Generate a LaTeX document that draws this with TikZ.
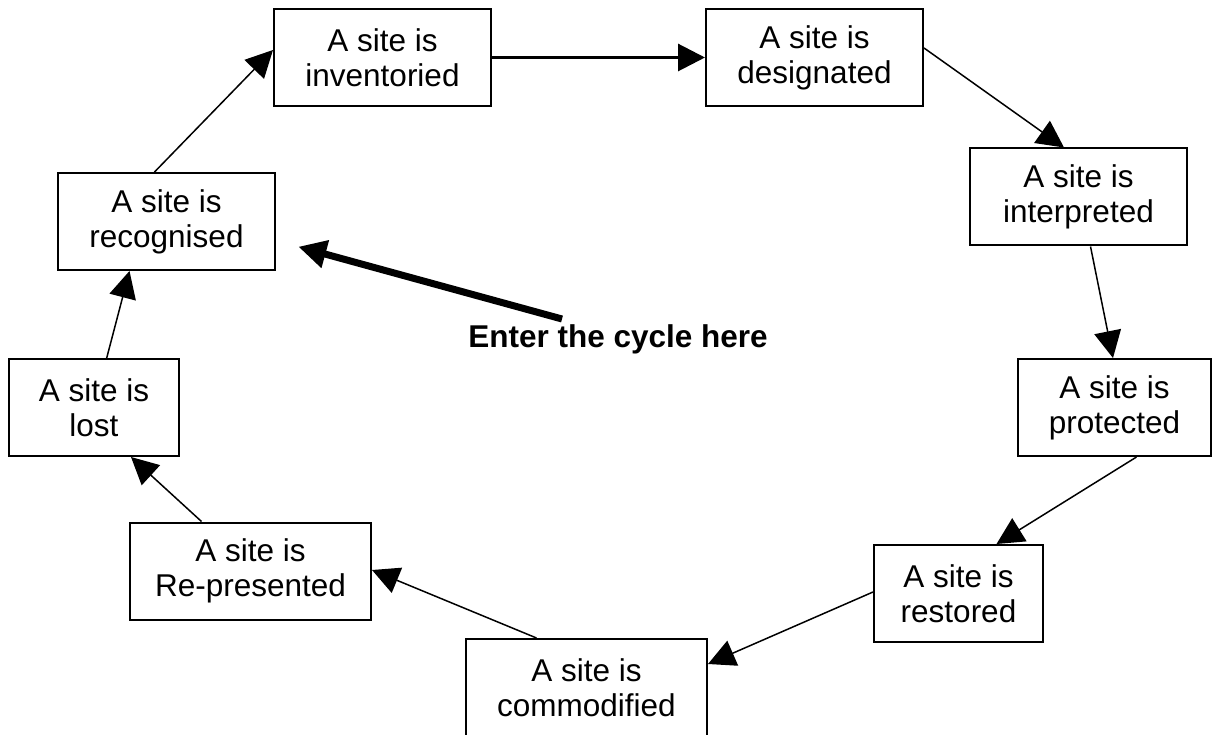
\documentclass[tikz,border=0pt]{standalone}
\usepackage{fontspec}
\setmainfont{Liberation Sans}
\usetikzlibrary{arrows.meta,calc}
\begin{document}
\begin{tikzpicture}[x=1pt,y=-1pt,
  box/.style={draw,line width=2pt,inner sep=0pt,minimum height=97pt,align=center,
    font=\fontsize{31.5pt}{35pt}\selectfont},
  conn/.style={line width=1.5pt,-{Triangle[length=27pt,width=27pt]}},
  thickconn/.style={line width=3pt,-{Triangle[length=27pt,width=27pt]}},
  entryarrow/.style={line width=7pt,-{Triangle[length=28pt,width=27pt]}},
  entrytext/.style={font=\bfseries\fontsize{31.5pt}{35pt}\selectfont,anchor=base,inner sep=0pt}
]
\useasboundingbox (0,0) rectangle (1220,735);
\node[box,minimum width=217pt] (inv)  at (382.5,57.5) {A site is\\inventoried};
\node[box,minimum width=217pt] (des)  at (814.5,57.5) {A site is\\designated};
\node[box,minimum width=217pt] (int)  at (1078.5,197) {A site is\\interpreted};
\node[box,minimum width=193pt] (prot) at (1114.5,407.5) {A site is\\protected};
\node[box,minimum width=169pt] (rest) at (958.5,593.5) {A site is\\restored};
\node[box,minimum width=241pt] (comm) at (586.5,687.5) {A site is\\commodified};
\node[box,minimum width=241pt] (rep)  at (250.5,571) {A site is\\Re-presented};
\node[box,minimum width=170pt] (lost) at (94,407.5) {A site is\\lost};
\node[box,minimum width=217pt] (rec)  at (166.5,221.5) {A site is\\recognised};

\draw[thickconn] (inv.east) -- (des.west);
\draw[conn] ([yshift=9.5pt]des.east) -- ([xshift=-14.5pt]int.north);
\draw[conn] ([xshift=12pt]int.south) -- ([xshift=-1.5pt]prot.north);
\draw[conn] ([xshift=22pt]prot.south) -- ([xshift=38pt]rest.north);
\draw[conn] ([yshift=1.5pt]rest.west) -- ([yshift=23.5pt]comm.east);
\draw[conn] ([xshift=-50pt]comm.north) -- ([yshift=1pt]rep.east);
\draw[conn] ([xshift=-49pt]rep.north) -- ([xshift=37pt]lost.south);
\draw[conn] ([xshift=12.7pt]lost.north) -- ([xshift=-37pt]rec.south);
\draw[conn] ([xshift=-12pt]rec.north) -- ([yshift=7.5pt]inv.west);

\coordinate (entrystart) at (562,319);
\coordinate (entrytip) at (298.3,246.7);
\draw[entryarrow] (entrystart) -- (entrytip);
\node[entrytext] (enter) at (618,347) {Enter the cycle here};
\end{tikzpicture}
\end{document}
